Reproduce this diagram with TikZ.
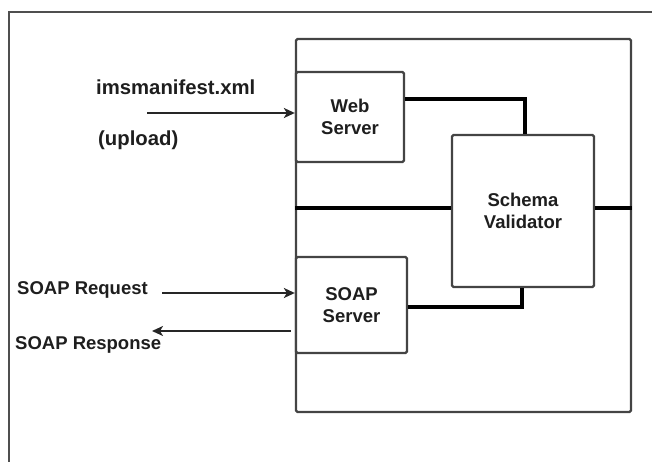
\documentclass[tikz,border=0pt]{standalone}
\usepackage{fontspec}
\setmainfont{Liberation Sans}
\usetikzlibrary{arrows.meta}
\definecolor{boxgray}{HTML}{444444}
\definecolor{framegray}{HTML}{4F4F4F}
\definecolor{txt}{HTML}{1E1E1E}
\begin{document}
\begin{tikzpicture}[x=1pt,y=-1pt,
  every node/.style={font=\fontsize{18.5}{21.5}\selectfont\bfseries, text=txt},
  box/.style={draw=boxgray, line width=2.3pt, rounded corners=1.5pt, align=center, inner sep=0pt},
  conn/.style={draw=black, line width=3.4pt},
  arr/.style={draw=black!85, line width=2.2pt, -{Stealth[length=11pt,width=10pt,inset=3pt]}},
  frame/.style={draw=framegray, line width=1.5pt},
  lbl/.style={anchor=base west, inner sep=0pt},
  biglbl/.style={lbl, font=\fontsize{20.3}{24}\selectfont\bfseries}]
\useasboundingbox (0,0) rectangle (652,462);
% outer frame (top and left edges only)
\coordinate (fbl) at (9,470);
\coordinate (ftl) at (9,12);
\coordinate (ftr) at (660,12);
\draw[frame] (fbl) -- (ftl) -- (ftr);
% big container
\node[box, minimum width=335pt, minimum height=373pt] (big) at (463.5,225.5) {};
% inner boxes
\node[box, fill=white, minimum width=108pt, minimum height=90pt] (web) at (350,117) {Web\\Server};
\node[box, fill=white, minimum width=111pt, minimum height=96pt] (soap) at (351.5,305) {SOAP\\Server};
\node[box, fill=white, minimum width=142pt, minimum height=152pt] (schema) at (523,211) {Schema\\Validator};
% connectors
\draw[conn] ([yshift=18pt]web.east) -| ([xshift=2pt]schema.north);
\draw[conn] ([yshift=3pt]schema.west) -- ([yshift=3pt]schema.west -| big.west);
\draw[conn] ([yshift=3pt]schema.east) -- ([yshift=3pt]schema.east -| big.east);
\draw[conn] ([yshift=-2pt]soap.east) -| ([xshift=-1pt]schema.south);
% labels
\node[biglbl] (lman) at (96,95) {imsmanifest.xml};
\node[biglbl] (lup) at (98,146) {(upload)};
\node[lbl] (lreq) at (17,294) {SOAP Request};
\node[lbl] (lresp) at (15,349) {SOAP Response};
% arrows
\coordinate (mstart) at (147,113);
\coordinate (rqstart) at (162,293);
\coordinate (rsend) at (152,331);
\draw[arr] (mstart) -- (mstart -| web.west);
\draw[arr] (rqstart) -- (rqstart -| soap.west);
\draw[arr] ([xshift=-4pt]rsend -| soap.west) -- (rsend);
\end{tikzpicture}
\end{document}
